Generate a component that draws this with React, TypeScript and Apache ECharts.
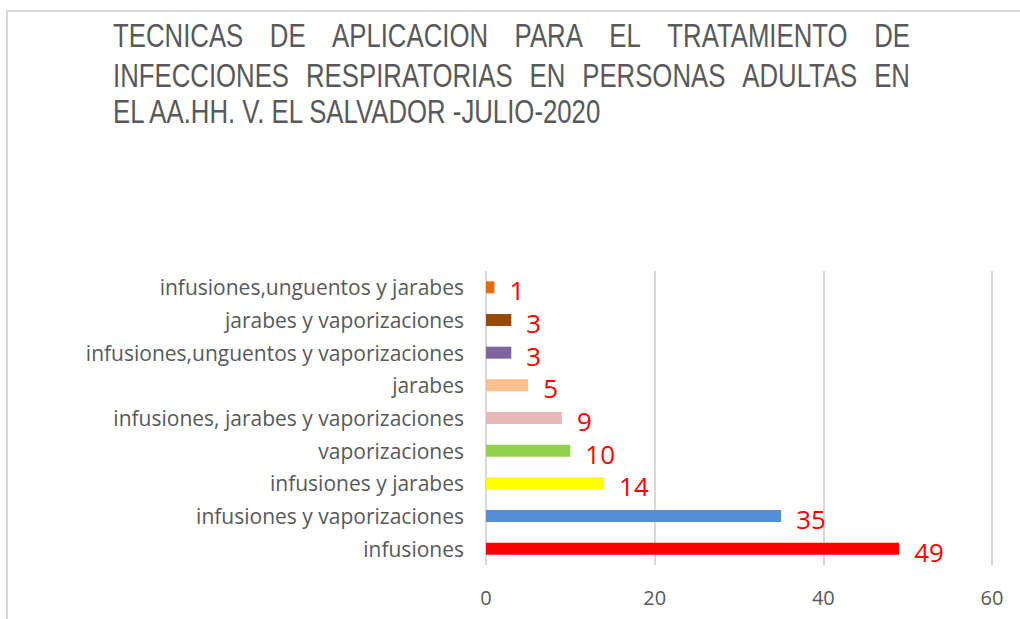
import React, { useEffect, useRef } from "react";
import * as echarts from "echarts";

const titleLines = [
  "TECNICAS DE APLICACION PARA EL TRATAMIENTO DE",
  "INFECCIONES RESPIRATORIAS EN PERSONAS ADULTAS EN",
  "EL AA.HH. V. EL SALVADOR -JULIO-2020",
];
const categories = [
  "infusiones",
  "infusiones y vaporizaciones",
  "infusiones y jarabes",
  "vaporizaciones",
  "infusiones, jarabes y vaporizaciones",
  "jarabes",
  "infusiones,unguentos y vaporizaciones",
  "jarabes y vaporizaciones",
  "infusiones,unguentos y jarabes",
];
const values = [49, 35, 14, 10, 9, 5, 3, 3, 1];
const barColors = [
  "#ff0000",
  "#558ed5",
  "#ffff00",
  "#92d050",
  "#e6b9b8",
  "#fac090",
  "#8064a2",
  "#984807",
  "#e46c0a",
];
const xTicks = { min: 0, max: 60, interval: 20 };

const TITLE_FONT = '"Liberation Sans", Arial, sans-serif';
const TITLE_SIZE = 33;
const LABEL_FONT = '"Open Sans", "Noto Sans", sans-serif';

function buildTitle(): any[] {
  const canvas = document.createElement("canvas");
  const ctx = canvas.getContext("2d")!;
  ctx.font = `${TITLE_SIZE}px ${TITLE_FONT}`;
  const left = 113;
  const right = 910;
  const lastWidthTarget = 491;
  const scale = lastWidthTarget / ctx.measureText(titleLines[2]).width;
  const ys = [35, 75, 111];
  const els: any[] = [];
  titleLines.forEach((line, li) => {
    const style = {
      fill: "#595959",
      font: `${TITLE_SIZE}px ${TITLE_FONT}`,
      textVerticalAlign: "middle",
      textAlign: "left",
    };
    if (li === 2) {
      els.push({
        type: "text",
        x: left,
        y: ys[li],
        scaleX: scale,
        style: { ...style, text: line },
      });
      return;
    }
    const words = line.split(" ");
    const widths = words.map((w) => ctx.measureText(w).width * scale);
    const total = widths.reduce((a, b) => a + b, 0);
    const gap = (right - left - total) / (words.length - 1);
    let x = left;
    words.forEach((w, i) => {
      els.push({
        type: "text",
        x,
        y: ys[li],
        scaleX: scale,
        style: { ...style, text: w },
      });
      x += widths[i] + gap;
    });
  });
  return els;
}

export default function App() {
  const ref = useRef<HTMLDivElement>(null);
  useEffect(() => {
    if (!ref.current) return;
    const chart = echarts.init(ref.current, null, { renderer: "svg" });
    chart.setOption({
      animation: false,
      backgroundColor: "#ffffff",
      grid: { left: 486, right: 28, top: 271, bottom: 54 },
      xAxis: {
        type: "value",
        min: xTicks.min,
        max: xTicks.max,
        interval: xTicks.interval,
        axisLine: { show: false },
        axisTick: { show: false },
        splitLine: { lineStyle: { color: "#d9d9d9", width: 2 } },
        axisLabel: {
          color: "#595959",
          fontSize: 20,
          fontFamily: LABEL_FONT,
          margin: 22,
        },
      },
      yAxis: {
        type: "category",
        data: categories,
        axisLine: { show: false },
        axisTick: { show: false },
        axisLabel: {
          color: "#595959",
          fontSize: 21,
          fontFamily: LABEL_FONT,
          margin: 22,
        },
      },
      series: [
        {
          type: "bar",
          barWidth: 12,
          data: values.map((v, i) => ({
            value: v,
            itemStyle: { color: barColors[i] },
          })),
          label: {
            show: true,
            position: "right",
            distance: 15,
            offset: [0, 3],
            color: "#ff0000",
            fontSize: 26,
            lineHeight: 24,
            fontFamily: LABEL_FONT,
          },
        },
      ],
      graphic: [
        {
          type: "rect",
          shape: { x: 7, y: 11, width: 1100, height: 700 },
          style: { fill: "none", stroke: "#d9d9d9", lineWidth: 2 },
          silent: true,
        },
        ...buildTitle(),
      ],
    });
    return () => chart.dispose();
  }, []);
  return (
    <div
      ref={ref}
      style={{
        position: "absolute",
        left: 0,
        top: 0,
        width: 1020,
        height: 619,
        background: "#fff",
      }}
    />
  );
}
